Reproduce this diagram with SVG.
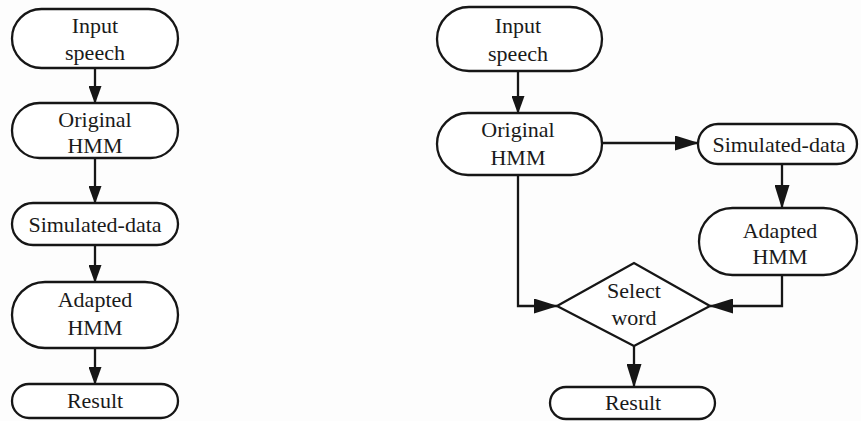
<svg xmlns="http://www.w3.org/2000/svg" width="861" height="421" viewBox="0 0 861 421">
  <defs>
    <marker id="arrow" viewBox="0 0 18 13" markerUnits="userSpaceOnUse" markerWidth="18" markerHeight="13" refX="17" refY="6.5" orient="auto">
      <path d="M0,0 L18,6.5 L0,13 z" fill="#161616"/>
    </marker>
    <marker id="arrow-lg" viewBox="0 0 24 15" markerUnits="userSpaceOnUse" markerWidth="24" markerHeight="15" refX="23" refY="7.5" orient="auto">
      <path d="M0,0 L24,7.5 L0,15 z" fill="#161616"/>
    </marker>
    <style>
      .box { fill: #ffffff; stroke: #161616; stroke-width: 2.3; }
      .lbl { font-family: "Liberation Serif", "Times New Roman", Times, serif; font-size: 22px; fill: #1a1a1a; text-anchor: middle; }
      .conn { fill: none; stroke: #161616; stroke-width: 2.3; }
      .conn .arr { marker-end: url(#arrow); }
      .conn .arr-lg { marker-end: url(#arrow-lg); }
    </style>
  </defs>
  <rect width="861" height="421" fill="#fdfdfd"/>

  <!-- connectors -->
  <g id="connectors" class="conn">
    <!-- left flow -->
    <line class="arr" x1="95" y1="68" x2="95" y2="103"/>
    <line class="arr" x1="95" y1="158" x2="95" y2="203"/>
    <line class="arr" x1="95" y1="245" x2="95" y2="282"/>
    <line class="arr" x1="95" y1="348" x2="95" y2="384"/>
    <!-- right flow -->
    <line class="arr" x1="518" y1="71" x2="518" y2="113"/>
    <line class="arr-lg" x1="602" y1="143" x2="698" y2="143"/>
    <line class="arr-lg" x1="782" y1="164" x2="782" y2="208"/>
    <polyline class="arr-lg" points="518,175 518,306 557,306"/>
    <polyline class="arr-lg" points="782,275 782,306 710,306"/>
    <line class="arr-lg" x1="634" y1="346" x2="634" y2="387"/>
  </g>

  <!-- left flow nodes -->
  <g id="l-input">
    <rect class="box" x="12" y="9" width="166" height="59" rx="29.5"/>
    <text class="lbl" x="95" y="33">Input</text>
    <text class="lbl" x="95" y="60">speech</text>
  </g>
  <g id="l-original">
    <rect class="box" x="12" y="103" width="166" height="55" rx="27.5"/>
    <text class="lbl" x="95" y="127">Original</text>
    <text class="lbl" x="95" y="153">HMM</text>
  </g>
  <g id="l-simulated">
    <rect class="box" x="12" y="203" width="166" height="42" rx="21"/>
    <text class="lbl" x="95" y="232">Simulated-data</text>
  </g>
  <g id="l-adapted">
    <rect class="box" x="12" y="282" width="166" height="66" rx="33"/>
    <text class="lbl" x="95" y="307">Adapted</text>
    <text class="lbl" x="95" y="335">HMM</text>
  </g>
  <g id="l-result">
    <rect class="box" x="12" y="384" width="166" height="34" rx="17"/>
    <text class="lbl" x="95" y="408">Result</text>
  </g>

  <!-- right flow nodes -->
  <g id="r-input">
    <rect class="box" x="437" y="7" width="165" height="64" rx="32"/>
    <text class="lbl" x="518" y="33">Input</text>
    <text class="lbl" x="518" y="61">speech</text>
  </g>
  <g id="r-original">
    <rect class="box" x="437" y="113" width="165" height="62" rx="31"/>
    <text class="lbl" x="518" y="137">Original</text>
    <text class="lbl" x="518" y="165">HMM</text>
  </g>
  <g id="r-simulated">
    <rect class="box" x="698" y="124" width="159" height="40" rx="20"/>
    <text class="lbl" x="779" y="152">Simulated-data</text>
  </g>
  <g id="r-adapted">
    <rect class="box" x="699" y="208" width="158" height="67" rx="33.5"/>
    <text class="lbl" x="780" y="238">Adapted</text>
    <text class="lbl" x="780" y="264">HMM</text>
  </g>
  <g id="r-select">
    <polygon class="box" points="557,306 634,263 710,306 634,346"/>
    <text class="lbl" x="634" y="298">Select</text>
    <text class="lbl" x="634" y="325">word</text>
  </g>
  <g id="r-result">
    <rect class="box" x="550" y="387" width="165" height="32" rx="16"/>
    <text class="lbl" x="633" y="410">Result</text>
  </g>
</svg>
